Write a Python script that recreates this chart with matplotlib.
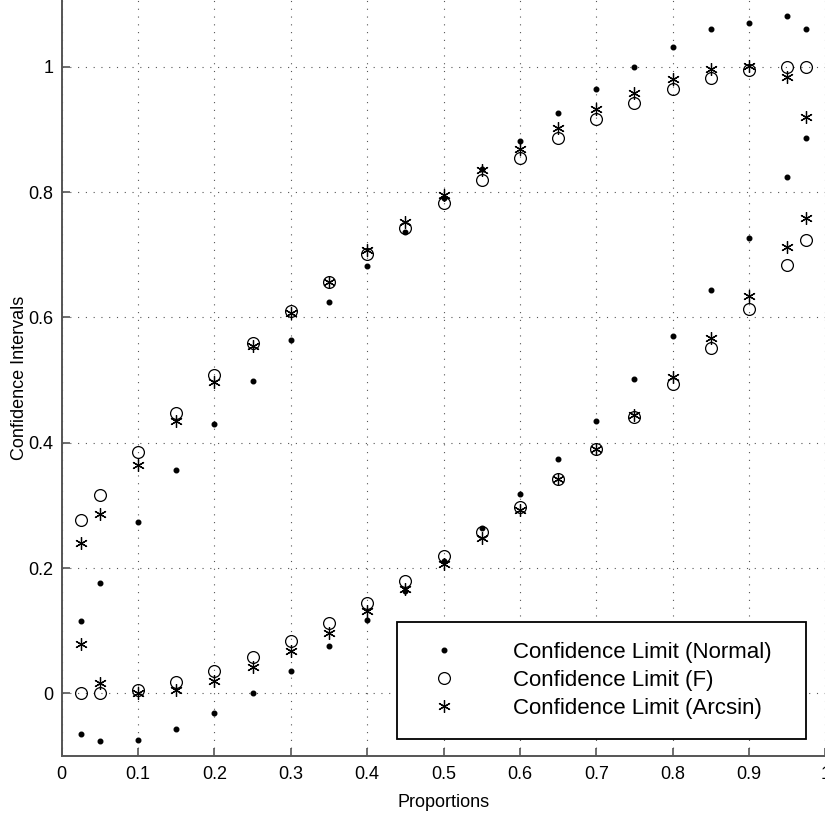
import matplotlib.pyplot as plt

plt.rcParams['font.family'] = ['Liberation Sans', 'DejaVu Sans']

# proportions and confidence limits
props = [0.025, 0.05, 0.1, 0.15, 0.2, 0.25, 0.3, 0.35, 0.4, 0.45, 0.5,
         0.55, 0.6, 0.65, 0.7, 0.75, 0.8, 0.85, 0.9, 0.95, 0.975]

normal_lo = [-0.065, -0.076, -0.074, -0.057, -0.031, 0.0, 0.035, 0.075, 0.117, 0.164, 0.211,
             0.264, 0.318, 0.374, 0.435, 0.501, 0.570, 0.644, 0.727, 0.824, 0.886]
normal_hi = [0.115, 0.176, 0.273, 0.356, 0.430, 0.499, 0.564, 0.625, 0.682, 0.737, 0.790,
             0.837, 0.882, 0.926, 0.965, 1.0, 1.031, 1.061, 1.070, 1.081, 1.061]

f_lo = [0.0, 0.0, 0.006, 0.018, 0.035, 0.058, 0.084, 0.113, 0.145, 0.180, 0.219,
        0.257, 0.298, 0.342, 0.390, 0.441, 0.494, 0.551, 0.614, 0.683, 0.723]
f_hi = [0.277, 0.316, 0.386, 0.448, 0.508, 0.560, 0.610, 0.657, 0.701, 0.742, 0.783,
        0.820, 0.854, 0.887, 0.916, 0.943, 0.965, 0.982, 0.995, 1.0, 1.0]

arcsin_lo = [0.079, 0.016, 0.0, 0.005, 0.019, 0.042, 0.067, 0.097, 0.131, 0.167, 0.207,
             0.248, 0.293, 0.342, 0.390, 0.445, 0.505, 0.567, 0.635, 0.712, 0.758]
arcsin_hi = [0.240, 0.286, 0.365, 0.434, 0.497, 0.555, 0.607, 0.657, 0.707, 0.753, 0.795,
             0.835, 0.869, 0.902, 0.933, 0.958, 0.981, 0.997, 1.002, 0.983, 0.920]

xticks = [0, 0.1, 0.2, 0.3, 0.4, 0.5, 0.6, 0.7, 0.8, 0.9, 1]
yticks = [0, 0.2, 0.4, 0.6, 0.8, 1]

fig = plt.figure(figsize=(8.25, 8.13), dpi=100)
ax = fig.add_axes([0.0747, 0.0701, 0.9258, 0.9299])

asterisk = (6, 2, 0)

# normal limits (small dots)
ax.plot(props, normal_lo, 'o', color='black', markersize=3.3, label='Confidence Limit (Normal)')
ax.plot(props, normal_hi, 'o', color='black', markersize=3.3)

# F limits (open circles)
ax.plot(props, f_lo, 'o', mfc='none', mec='black', markersize=8.5, mew=0.9, label='Confidence Limit (F)')
ax.plot(props, f_hi, 'o', mfc='none', mec='black', markersize=8.5, mew=0.9)

# arcsin limits (asterisks)
ax.plot(props, arcsin_lo, marker=asterisk, ls='none', color='black', markersize=9, mew=0.9,
        label='Confidence Limit (Arcsin)')
ax.plot(props, arcsin_hi, marker=asterisk, ls='none', color='black', markersize=9, mew=0.9)

ax.set_xlim(0, 1)
ax.set_ylim(-0.1, 1.1067)
ax.set_xticks(xticks)
ax.set_xticklabels(['0', '0.1', '0.2', '0.3', '0.4', '0.5', '0.6', '0.7', '0.8', '0.9', '1'])
ax.set_yticks(yticks)
ax.set_yticklabels(['0', '0.2', '0.4', '0.6', '0.8', '1'])

ax.grid(True, color='#555555', linestyle=(0, (1, 6)), linewidth=0.8)
ax.set_axisbelow(True)

ax.spines['right'].set_visible(False)
ax.spines['top'].set_visible(False)
ax.spines['left'].set_color('#555555')
ax.spines['bottom'].set_color('#555555')
ax.spines['left'].set_linewidth(1.4)
ax.spines['bottom'].set_linewidth(1.4)
ax.tick_params(axis='both', direction='in', length=6, width=1.2, color='#555555', labelsize=13)
ax.tick_params(axis='x', pad=7)
ax.tick_params(axis='y', pad=6)

ax.set_xlabel('Proportions', fontsize=13, labelpad=8)
ax.set_ylabel('Confidence Intervals', fontsize=13, labelpad=0)

# legend box placed in figure pixels: x 397-806, y 623-737 (top-down)
leg = ax.legend(loc='upper left', bbox_to_anchor=(397 / 825, 1 - 623 / 813, 409 / 825, 0.001),
                bbox_transform=fig.transFigure, mode='expand', fontsize=16,
                borderpad=0.9, handlelength=2.45, handletextpad=1.85, labelspacing=0.3,
                fancybox=False, framealpha=1, edgecolor='black', borderaxespad=0)
leg.get_frame().set_linewidth(1.3)

fig.savefig('out.png', dpi=100)
